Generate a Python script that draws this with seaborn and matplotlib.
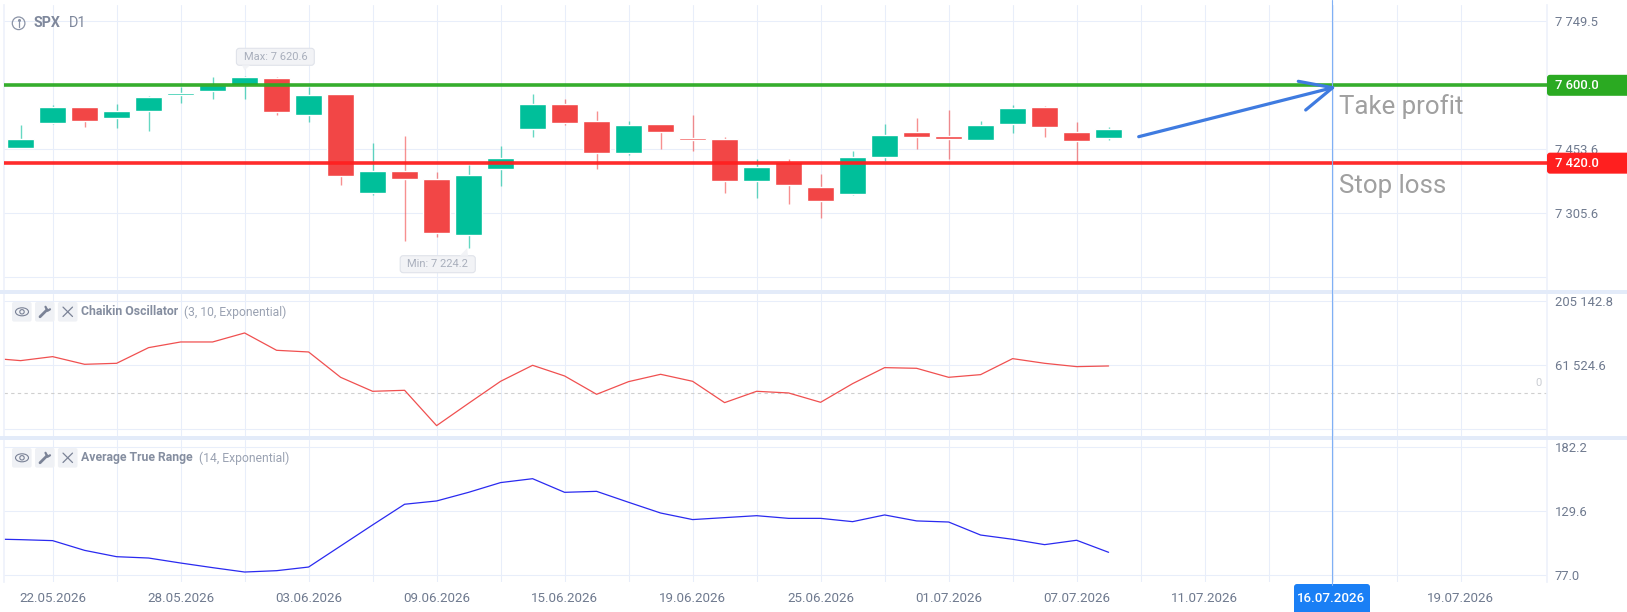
import pandas as pd
import seaborn as sns
import matplotlib.pyplot as plt
from matplotlib.patches import Rectangle, FancyBboxPatch, Circle, Ellipse, Polygon

# candles
open_prices = [7455.8, 7512.9, 7549.1, 7525.2, 7541.4, 7577.6, 7586.9, 7601.0, 7616.9, 7532.1, 7579.9, 7351.8,
               7402.6, 7382.6, 7253.9, 7406.5, 7499.0, 7556.5, 7516.4, 7443.2, 7510.2, 7477.1, 7476.3, 7379.2,
               7422.0, 7365.3, 7349.1, 7434.7, 7491.7, 7482.5, 7474.0, 7511.0, 7549.5, 7491.7, 7477.1]
close_prices = [7475.1, 7549.1, 7518.3, 7539.8, 7572.2, 7583.0, 7600.0, 7618.5, 7539.1, 7576.8, 7391.1, 7401.9,
                7382.6, 7259.3, 7392.6, 7431.9, 7556.8, 7512.5, 7443.2, 7507.1, 7490.9, 7474.0, 7378.4, 7410.0,
                7369.1, 7332.2, 7434.7, 7484.8, 7479.4, 7475.5, 7507.1, 7547.2, 7503.3, 7471.7, 7497.9]
high_prices = [7508.2, 7553.7, 7550.6, 7556.8, 7575.3, 7595.3, 7620.0, 7620.6, 7618.5, 7596.9, 7580.0, 7467.4,
               7482.8, 7399.5, 7415.0, 7459.7, 7580.0, 7568.8, 7541.0, 7517.1, 7510.2, 7531.0, 7480.9, 7429.3,
               7430.0, 7394.6, 7447.8, 7510.2, 7524.1, 7542.6, 7517.1, 7553.4, 7551.8, 7514.8, 7502.5]
low_prices = [7455.8, 7510.5, 7504.4, 7501.3, 7495.1, 7559.9, 7568.4, 7568.4, 7531.4, 7515.9, 7370.3, 7347.1,
              7240.0, 7249.2, 7224.2, 7367.2, 7481.3, 7507.9, 7406.1, 7439.3, 7452.4, 7447.8, 7350.6, 7339.9,
              7326.0, 7293.6, 7346.8, 7425.4, 7452.4, 7429.3, 7474.0, 7490.2, 7480.9, 7423.0, 7473.2]

# the indicators also have one point left of the first candle, cut off by the axis
indicator_idx = list(range(-1, 35))
chaikin = [77981, 71997, 80973, 63769, 66013, 101169, 113885, 113885, 134081, 95185, 91445, 34597, 3181, 5425,
           -73864, -23748, 25621, 61525, 37588, -3552, 24872, 41328, 25620, -22252, 3180, -560, -21500, 20384,
           56288, 54792, 34596, 40580, 76484, 66012, 58532, 60036]
atr = [106.9, 106.3, 105.5, 97.5, 92.3, 91.2, 87.1, 83.3, 79.7, 80.8, 83.8, 101.1, 118.4, 135.4, 138.1, 145.2,
       153.2, 156.4, 145.2, 146.0, 137.0, 128.2, 122.8, 124.4, 126.0, 123.8, 123.8, 121.1, 126.6, 121.7, 120.8,
       110.1, 106.6, 102.2, 105.8, 95.9]

take_profit = 7600.0
stop_loss = 7420.0

# axis ticks
date_labels = ['22.05.2026', '28.05.2026', '03.06.2026', '09.06.2026', '15.06.2026', '19.06.2026',
               '25.06.2026', '01.07.2026', '07.07.2026', '11.07.2026', '', '19.07.2026']
price_ticks = [7749.5, 7601.5, 7453.6, 7305.6, 7157.6]
price_labels = ['7 749.5', '', '7 453.6', '7 305.6', '']
chaikin_ticks = [205142.8, 61524.6, -82093.6]
chaikin_labels = ['205 142.8', '61 524.6', '']
atr_ticks = [182.2, 129.6, 77.0]
atr_labels = ['182.2', '129.6', '77.0']

W, H = 1627, 612
GREEN = '#00BF9A'
RED = '#F24646'
GRID = '#E8EEFA'
TICK = '#6F7A8F'

sns.set_theme(style='white')
plt.rcParams['font.family'] = ['Roboto', 'DejaVu Sans']

fig = plt.figure(figsize=(W / 100, H / 100), dpi=100)


def panel(top, bottom):
    # axes placed by pixel rows of the figure
    return fig.add_axes([4.2 / W, 1 - bottom / H, (1547 - 4.2) / W, (bottom - top) / H])


ax1 = panel(5, 290)
ax2 = panel(294, 436)
ax3 = panel(440, 582)

for ax, ticks, labels, ylim in [(ax1, price_ticks, price_labels, (7126.7, 7785.7)),
                                (ax2, chaikin_ticks, chaikin_labels, (-97124, 221522)),
                                (ax3, atr_ticks, atr_labels, (71.5, 188.2))]:
    ax.set_xlim(-0.5125, 47.7)
    ax.set_ylim(*ylim)
    ax.yaxis.tick_right()
    ax.set_yticks(ticks)
    ax.set_yticklabels(labels)
    ax.set_xticks(range(1, 46, 2))
    ax.set_xticklabels([])
    ax.tick_params(axis='both', length=0, labelsize=9.4, labelcolor=TICK, pad=5.5)
    ax.grid(True, color=GRID, lw=0.75)
    ax.set_axisbelow(True)
    for side in ['top', 'bottom']:
        ax.spines[side].set_visible(False)
    for side in ['left', 'right']:
        ax.spines[side].set_color('#EEF2FB')

# candles
candles = pd.DataFrame({'open': open_prices, 'close': close_prices, 'high': high_prices, 'low': low_prices})
candles['up'] = candles['close'] >= candles['open']
candles['colour'] = candles['up'].map({True: GREEN, False: RED})
candles['bottom'] = candles[['open', 'close']].min(axis=1)
candles['size'] = (candles['close'] - candles['open']).abs()

ax1.vlines(candles.index, candles['low'], candles['high'], colors=candles['colour'], lw=1.0, alpha=0.6, zorder=2)
ax1.bar(candles.index, candles['size'], bottom=candles['bottom'], width=0.85, color=candles['colour'], zorder=3)

ax1.axhline(take_profit, color='#2BAA22', lw=2.6, alpha=0.95, zorder=4)
ax1.axhline(stop_loss, color='#FF1F1F', lw=2.6, alpha=0.95, zorder=4)

# indicators
osc = pd.DataFrame({'idx': indicator_idx, 'chaikin': chaikin, 'atr': atr})
sns.lineplot(data=osc, x='idx', y='chaikin', ax=ax2, color='#F05050', lw=0.9, legend=False)
sns.lineplot(data=osc, x='idx', y='atr', ax=ax3, color='#2A2AF0', lw=0.9, legend=False)
for ax in [ax2, ax3]:
    ax.set_xlabel('')
    ax.set_ylabel('')
ax2.axhline(0, color='#CFCFCF', lw=0.8, ls=(0, (3, 3)), zorder=1)
ax2.text(47.45, 10000, '0', color='#C9CCD2', fontsize=8, ha='center', va='bottom')

for i, label in enumerate(date_labels):
    ax3.annotate(label, xy=(1 + 4 * i, 0), xycoords=ax3.get_xaxis_transform(), xytext=(0, -16),
                 textcoords='offset pixels', ha='center', va='center', fontsize=9.6, color=TICK,
                 annotation_clip=False)

# overlay in figure pixels for the chart furniture
ov = fig.add_axes([0, 0, 1, 1], facecolor='none')
ov.set_xlim(0, W)
ov.set_ylim(H, 0)
ov.axis('off')

for y in [292, 438]:
    ov.add_patch(Rectangle((0, y - 1.8), W, 3.6, color='#E3EBF9', lw=0))

# crosshair + date badge
ov.plot([1332, 1332], [0, 585], color='#7FB0F5', lw=0.8)
ov.add_patch(FancyBboxPatch((1296, 586), 72, 30, boxstyle='round,pad=2,rounding_size=3', color='#1A7FF5', lw=0))
ov.text(1331.5, 598, '16.07.2026', color='white', fontsize=9.6, fontweight='medium', ha='center', va='center')

# level badges, placed from the price levels
for level, colour, text in [(take_profit, '#2BAA22', '7 600.0'), (stop_loss, '#FF1F1F', '7 420.0')]:
    y = H - ax1.transData.transform((0, level))[1]
    ov.add_patch(FancyBboxPatch((1549, y - 8.5), 90, 17, boxstyle='round,pad=2,rounding_size=3', color=colour, lw=0))
    ov.text(1555.5, y, text, color='white', fontsize=9.4, fontweight='medium', va='center')

# drawn arrow
ov.plot([1138.7, 1332.6], [136.7, 87.7], color='#3F7BE0', lw=2.3, solid_capstyle='round')
ov.plot([1298.3, 1332.6, 1305.7], [81.3, 87.7, 110], color='#3F7BE0', lw=2.3, solid_capstyle='round')

ov.text(1339, 106.5, 'Take profit', color='#A0A0A0', fontsize=18.6, va='center')
ov.text(1339, 186.5, 'Stop loss', color='#A0A0A0', fontsize=18.6, va='center')

# header
ov.add_patch(Circle((18.6, 23.3), 6.3, fill=False, ec='#8A93A6', lw=0.9))
ov.plot([18.6, 18.6], [22.3, 26.5], color='#8A93A6', lw=0.9)
ov.plot([18.6], [19.8], marker='o', ms=1.2, color='#8A93A6')
ov.text(34, 23.3, 'SPX', color='#7F889C', fontsize=10.2, fontweight='bold', va='center')
ov.text(68.4, 23.3, 'D1', color='#7F889C', fontsize=10.4, va='center')


def callout(x0, x1, y0, y1, tip_x, tip_y, base_x, text):
    ov.add_patch(FancyBboxPatch((x0 + 2, y0 + 2), x1 - x0 - 4, y1 - y0 - 4, boxstyle='round,pad=2,rounding_size=3',
                                fc='#F2F3F6', ec='#E0E3EA', lw=0.8))
    edge = y1 if tip_y > y1 else y0
    ov.add_patch(Polygon([(base_x - 4, edge), (base_x + 4, edge), (tip_x, tip_y)], fc='#F2F3F6', ec='none'))
    ov.text((x0 + x1) / 2, (y0 + y1) / 2, text, color='#A9AFBC', fontsize=8, ha='center', va='center')


callout(236.4, 314.3, 48.3, 65.3, 244.5, 70.3, 246, 'Max: 7 620.6')
callout(400.2, 475.3, 255.7, 272.7, 467.2, 248, 464, 'Min: 7 224.2')


def indicator_header(top, name, params, params_x):
    colour = '#7A8296'
    for x in [12, 35, 57.9]:
        ov.add_patch(FancyBboxPatch((x + 2, top + 2), 15.6, 15.6, boxstyle='round,pad=2,rounding_size=2',
                                    fc='#EFF1F5', ec='none'))
    cy = top + 9.8
    # eye
    ov.add_patch(Ellipse((22, cy), 13, 8, fill=False, ec=colour, lw=0.8))
    ov.add_patch(Circle((22, cy), 2.2, fill=False, ec=colour, lw=0.8))
    # wrench
    ov.plot([40, 47], [cy + 5, cy - 2], color=colour, lw=2, solid_capstyle='round')
    ov.plot([45.5, 47.5, 50], [cy - 5, cy - 1, cy - 2.5], color=colour, lw=1.6)
    # close
    ov.plot([63, 72.5], [cy - 4.7, cy + 4.7], color=colour, lw=0.9)
    ov.plot([63, 72.5], [cy + 4.7, cy - 4.7], color=colour, lw=0.9)
    ov.text(81, cy, name, color='#858EA0', fontsize=8.8, fontweight='bold', va='center')
    ov.text(params_x, cy, params, color='#9AA2B2', fontsize=8.7, va='center')


indicator_header(302, 'Chaikin Oscillator', '(3, 10, Exponential)', 184.3)
indicator_header(448, 'Average True Range', '(14, Exponential)', 198.6)

fig.savefig('out.png', dpi=100)
